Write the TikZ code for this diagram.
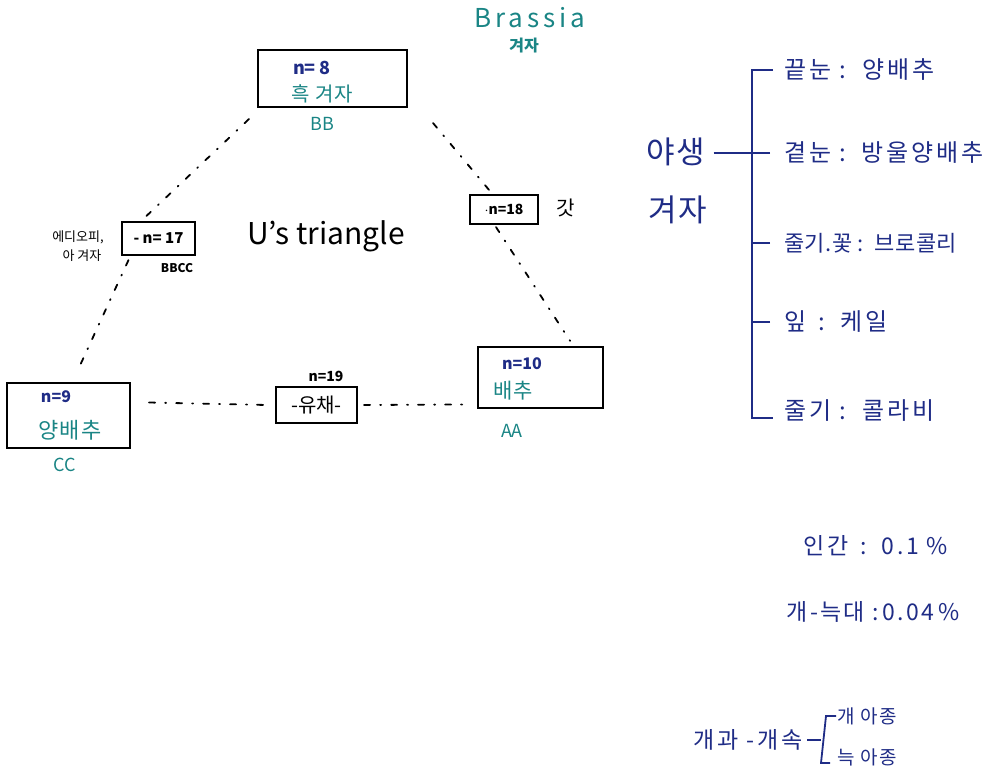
\documentclass[tikz,border=0pt]{standalone}
\usepackage{fontspec}
\setmainfont{Noto Sans CJK KR}
\definecolor{ink}{HTML}{1F2C86}
\definecolor{teal2}{HTML}{1A8585}
\begin{document}
\begin{tikzpicture}[x=1pt,y=-1pt,
  box/.style={draw=black,line width=2.2pt,inner sep=0pt},
  conn/.style={line width=1.8pt,line cap=round,dash pattern=on 6pt off 10pt on 1pt off 10pt},
  tl/.style={text=teal2,inner sep=0pt},
  nl/.style={text=ink,inner sep=0pt,font=\bfseries},
  bl/.style={text=black,inner sep=0pt},
  rl/.style={text=ink,inner sep=0pt,anchor=west,font=\fontsize{24}{26}\selectfont\addfontfeatures{LetterSpace=12}},
  brk/.style={draw=ink,line width=2.2pt}]
\useasboundingbox (0,0) rectangle (991,776);
% title
\node[tl,font=\fontsize{26}{28}\selectfont\addfontfeatures{LetterSpace=15}] (brassia) at (530,18) {Brassia};
\node[tl,font=\fontsize{16}{17}\selectfont\bfseries] (gyeoja) at (524,46) {겨자};
% boxes
\node[box,minimum width=149pt,minimum height=57pt] (BB) at (332.5,78.5) {};
\node[nl,font=\fontsize{18}{19}\selectfont\bfseries] at (312,68) {n= 8};
\node[tl,font=\fontsize{20}{21}\selectfont\addfontfeatures{LetterSpace=5}] at (322,94) {흑 겨자};
\node[tl,font=\fontsize{18}{19}\selectfont] (BBl) at (322,124) {BB};

\node[box,minimum width=73pt,minimum height=33pt,font=\fontsize{15}{16}\selectfont\bfseries] (n17) at (158.5,238.5) {- n= 17};
\node[bl,font=\fontsize{13}{14}\selectfont] (eth1) at (78,237) {에디오피,};
\node[bl,font=\fontsize{13}{14}\selectfont] (eth2) at (82,256) {아 겨자};
\node[bl,font=\fontsize{12}{13}\selectfont\bfseries] (bbcc) at (177,268) {BBCC};

\node[bl,font=\fontsize{30}{32}\selectfont] (tri) at (326,236) {U's triangle};

\node[box,minimum width=68pt,minimum height=29pt,font=\fontsize{14}{15}\selectfont\bfseries] (n18) at (504,209.5) {$\cdot$n=18};
\node[bl,font=\fontsize{20}{21}\selectfont] (gat) at (566,208) {갓};

\node[box,minimum width=123pt,minimum height=65pt] (CC) at (68.5,415.5) {};
\node[nl,font=\fontsize{16}{17}\selectfont\bfseries] at (56,397) {n=9};
\node[tl,font=\fontsize{22}{23}\selectfont\addfontfeatures{LetterSpace=6}] at (70,430) {양배추};
\node[tl,font=\fontsize{18}{19}\selectfont] (CCl) at (65,465) {CC};

\node[box,minimum width=125pt,minimum height=61pt] (AA) at (540.5,377.5) {};
\node[nl,font=\fontsize{16}{17}\selectfont\bfseries] at (522,364) {n=10};
\node[tl,font=\fontsize{21}{22}\selectfont\addfontfeatures{LetterSpace=6}] at (513,391) {배추};
\node[tl,font=\fontsize{18}{19}\selectfont] (AAl) at (512,431) {AA};

\node[box,minimum width=81pt,minimum height=36pt,font=\fontsize{20}{21}\selectfont] (yc) at (316.5,405) {-유채-};
\node[bl,font=\fontsize{14}{15}\selectfont\bfseries] (n19) at (326,376) {n=19};

% connectors
\coordinate (a1) at ([shift={(-8,11)}]BB.south west);
\coordinate (a2) at ([shift={(-12,-5)}]n17.north);
\draw[conn] (a1) -- (a2);
\coordinate (b1) at ([shift={(-30,4)}]n17.south);
\coordinate (b2) at ([shift={(9,-11)}]CC.north);
\draw[conn] (b1) -- (b2);
\coordinate (c1) at ([shift={(25,15)}]BB.south east);
\coordinate (c2) at ([shift={(-15,-4)}]n18.north);
\draw[conn] (c1) -- (c2);
\coordinate (d1) at ([shift={(-8,2)}]n18.south);
\coordinate (d2) at ([shift={(-34,-5)}]AA.north east);
\draw[conn] (d1) -- (d2);
\coordinate (e1) at ([shift={(18,-13)}]CC.east);
\coordinate (e2) at ([shift={(-8,0)}]yc.west);
\draw[conn] (e1) -- (e2);
\coordinate (f1) at ([shift={(6,0)}]yc.east);
\coordinate (f2) at ([shift={(-14,27)}]AA.west);
\draw[conn] (f1) -- (f2);

% right side
\node[text=ink,inner sep=0pt,font=\fontsize{31}{33}\selectfont\addfontfeatures{LetterSpace=5}] (ya) at (676,152) {야생};
\node[text=ink,inner sep=0pt,font=\fontsize{31}{33}\selectfont\addfontfeatures{LetterSpace=5}] (gj) at (678,210) {겨자};
\node[rl] (r1) at (784,70) {끝눈 :\ \ 양배추};
\node[rl] (r2) at (784,153) {곁눈 :\, 방울양배추};
\node[rl,font=\fontsize{22}{24}\selectfont\addfontfeatures{LetterSpace=2}] (r3) at (784,243) {줄기.꽃 :\, 브로콜리};
\node[rl] (r4) at (784,322) {잎 \,:\, 케일};
\node[rl] (r5) at (784,411) {줄기 :\ \ 콜라비};
\coordinate (top) at (752,68);
\coordinate (bot) at (752,418);
\draw[brk] (ya.east) ++(8,1) coordinate (yae) -- (yae -| top);
\draw[brk] (r1.west) ++(-11,0) coordinate (r1w) -- (r1w -| top) -- (bot) -- (bot -| r1w);
\draw[brk] (r2.west) ++(-14,0) coordinate (r2w) -- (r2w -| top);
\draw[brk] (r3.west) ++(-14,0) coordinate (r3w) -- (r3w -| top);
\draw[brk] (r4.west) ++(-14,0) coordinate (r4w) -- (r4w -| top);

% bottom
\node[text=ink,inner sep=0pt,font=\fontsize{23}{24}\selectfont\addfontfeatures{LetterSpace=12}] (h1) at (876,546) {인간 \,:\, 0.1 \%};
\node[text=ink,inner sep=0pt,font=\fontsize{23}{24}\selectfont\addfontfeatures{LetterSpace=10}] (h2) at (873,612) {개-늑대 :\,0.04\,\%};
\node[text=ink,inner sep=0pt,anchor=east,font=\fontsize{23}{24}\selectfont\addfontfeatures{LetterSpace=12}] (fam) at (803,740) {개과 -개속};
\coordinate (bt) at (826,716);
\coordinate (bb) at (821,763);
\draw[brk,line width=1.8pt] (fam.east) ++(4,0) coordinate (fe) -- (fe -| bb);
\draw[brk,line width=1.8pt] ([xshift=10pt]bt) -- (bt) -- (bb) -- ([xshift=9pt]bb);
\node[text=ink,inner sep=0pt,anchor=west,font=\fontsize{19}{20}\selectfont\addfontfeatures{LetterSpace=8}] (s1) at (837,716) {개 아종};
\node[text=ink,inner sep=0pt,anchor=west,font=\fontsize{19}{20}\selectfont\addfontfeatures{LetterSpace=8}] (s2) at (837,757) {늑 아종};
\end{tikzpicture}
\end{document}
